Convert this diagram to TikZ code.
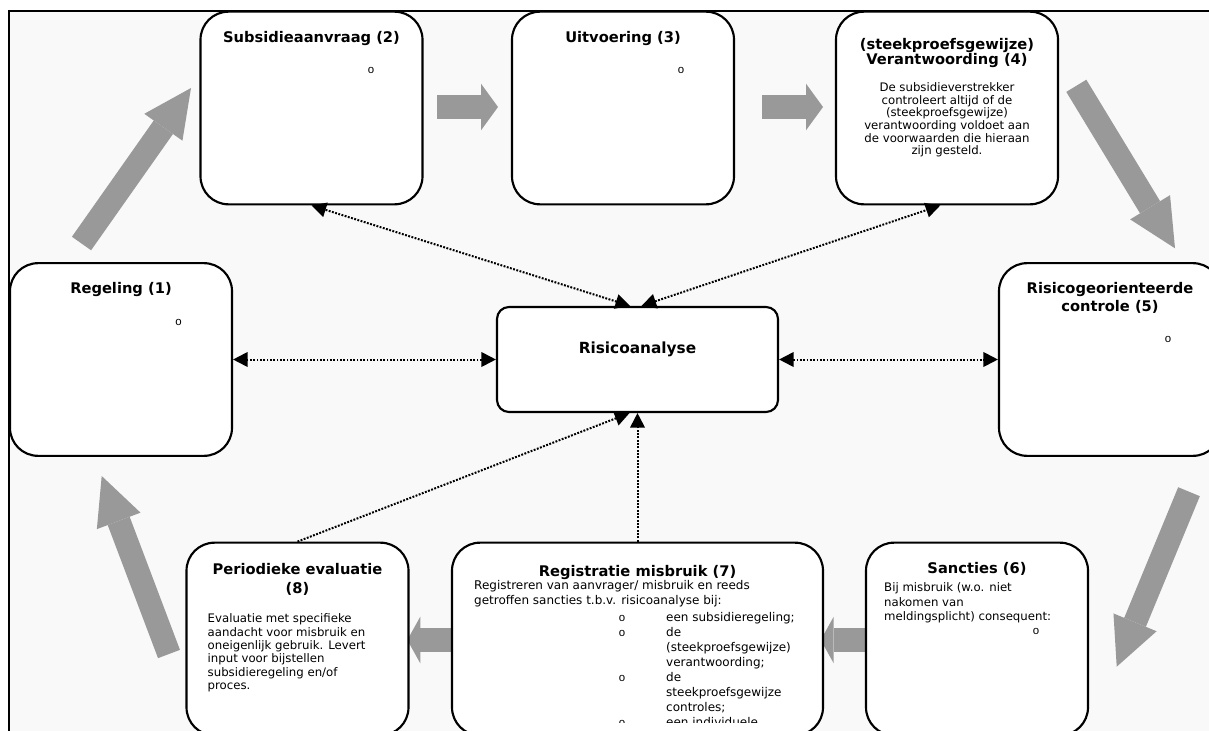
\documentclass[tikz,border=0pt]{standalone}
\usepackage{fontspec}
\setmainfont{DejaVu Sans}
\newfontfamily\bulletfont{Liberation Mono}
\usetikzlibrary{positioning,arrows.meta,calc}
\definecolor{pageBg}{HTML}{F9F9F9}
\definecolor{flowGray}{HTML}{999999}

\begin{document}
\begin{tikzpicture}[x=0.75pt, y=-0.75pt, >={Triangle[length=11pt, width=11pt]},
      box/.style={draw, line width=1.6pt, fill=white, rounded corners=21pt, inner sep=0pt,
        minimum width=166.5pt, minimum height=144.5pt},
      hub/.style={box, rounded corners=9pt, minimum width=210.75pt, minimum height=78.75pt},
      title/.style={font=\fontsize{11}{13.5}\selectfont\bfseries, align=center, inner sep=0pt},
      body/.style={font=\fontsize{8.8}{9.45}\selectfont, inner sep=0pt},
      bul/.style={font=\bulletfont\fontsize{8.6}{9}\selectfont, inner sep=0pt},
      link/.style={draw, line width=1.5pt, dash pattern=on 1.4pt off 1.1pt},
      flow/.style={draw=flowGray, line width=17.6pt, -{Triangle[length=#1, width=35pt, line width=0pt]}}]
    \useasboundingbox (0,0) rectangle (1209,731);
    \clip (0,0) rectangle (1209,731);
    % page frame
    \fill[pageBg] (9,11) rectangle (1240,760);
    \draw[line width=1.6pt] (9,760) -- (9,11) -- (1240,11);
    % grey cycle arrows
    \foreach \s/\e/\l [count=\i] in {{(81.5,243.5)}/{(191,88)}/36pt, {(437,107)}/{(498,107)}/12.75pt,
        {(762,107)}/{(823,107)}/12.75pt, {(1076.3,85.8)}/{(1175,248.3)}/36pt,
        {(1189,491.7)}/{(1116.7,666.7)}/36pt, {(866.7,640)}/{(820.7,640)}/9.75pt,
        {(453.3,640)}/{(407.3,640)}/9.75pt, {(169,654)}/{(101.7,476)}/36pt} {
      \path \s coordinate (f\i-a) \e coordinate (f\i-b);
      \draw[flow=\l] (f\i-a) -- (f\i-b);
    }
    % boxes
    \node[box] (b1) at (121,359.5) {};
    \node[box] (b2) at (311.5,108) {};
    \node[box] (b3) at (623,108) {};
    \node[box] (b4) at (947,108) {};
    \node[box] (b5) at (1110,359.5) {};
    \node[box] (b6) at (977,639) {};
    \node[box, minimum width=278.25pt] (b7) at (637.5,639) {};
    \node[box] (b8) at (297.5,639) {};
    \node[hub] (ra) at (637.5,359.5) {};
    % titles
    \node[title, below=15pt of b1.north] (t1) {Regeling (1)};
    \node[title, below=15pt of b2.north] (t2) {Subsidieaanvraag (2)};
    \node[title, below=15pt of b3.north] (t3) {Uitvoering (3)};
    \node[title, below=20.4pt of b4.north, font=\fontsize{11}{11.25}\selectfont\bfseries] (t4)
      {(steekproefsgewijze)\\Verantwoording (4)};
    \node[title, below=15.2pt of b5.north] (t5) {Risicogeorienteerde\\controle (5)};
    \node[title, below=15.2pt of b6.north] (t6) {Sancties (6)};
    \node[title, below=17.25pt of b7.north] (t7) {Registratie misbruik (7)};
    \node[title, below=15.9pt of b8.north, font=\fontsize{11}{14.25}\selectfont\bfseries] (t8)
      {Periodieke evaluatie\\(8)};
    \node[title, below=26.4pt of ra.north, font=\fontsize{11.5}{13.5}\selectfont\bfseries] (tra) {Risicoanalyse};
    % texts
    \node[body, align=center, below=54pt of b4.north] (d4) {De subsidieverstrekker\\controleert altijd of de\\(steekproefsgewijze)\\verantwoording voldoet aan\\de voorwaarden die hieraan\\zijn gesteld.};
    \node[body, align=left, anchor=north west, font=\fontsize{8.8}{10.9}\selectfont] (d6)
      at ([xshift=14.25pt, yshift=-30.75pt]b6.north west) {Bij misbruik (w.o. niet\\nakomen van\\meldingsplicht) consequent:};
    \node[body, align=left, anchor=north west, font=\fontsize{8.8}{10}\selectfont] (d8)
      at ([xshift=16.5pt, yshift=-54pt]b8.north west) {Evaluatie met specifieke\\aandacht voor misbruik en\\oneigenlijk gebruik. Levert\\input voor bijstellen\\subsidieregeling en/of\\proces.};
    \begin{scope}
      \clip (452,540) rectangle (823,722.5);
      \node[body, align=left, anchor=north west, font=\fontsize{9}{11.25}\selectfont] (d7)
        at ([xshift=17.25pt, yshift=-29.25pt]b7.north west) {Registreren van aanvrager/ misbruik en reeds\\getroffen sancties t.b.v. risicoanalyse bij:};
      \node[body, align=left, anchor=north west, font=\fontsize{9}{11.25}\selectfont] (l7)
        at ([xshift=161.25pt, yshift=-53.25pt]b7.north west) {een subsidieregeling;\\de\\(steekproefsgewijze)\\verantwoording;\\de\\steekproefsgewijze\\controles;\\een individuele};
      \foreach \p [count=\i] in {618,633,678,723}
        \node[bul] (o7-\i) at (622,\p) {o};
    \end{scope}
    \foreach \n/\p in {o1/{(178.5,322)}, o2/{(371,70)}, o3/{(681,70)}, o5/{(1168,339)}, o6/{(1036,631)}}
      \node[bul] (\n) at \p {o};
    % links to the risk analysis
    \draw[link, <->] (ra.west) -- (b1.east);
    \draw[link, <->] (ra.east) -- (b5.west);
    \draw[link, <->] ([xshift=-5.5pt]ra.north) -- (b2.south);
    \draw[link, <->] ([xshift=3pt]ra.north) -- ([xshift=-5pt]b4.south);
    \draw[link, ->] (b8.north) -- ([xshift=-6pt]ra.south);
    \draw[link, ->] (b7.north) -- (ra.south);
  \end{tikzpicture}
\end{document}
